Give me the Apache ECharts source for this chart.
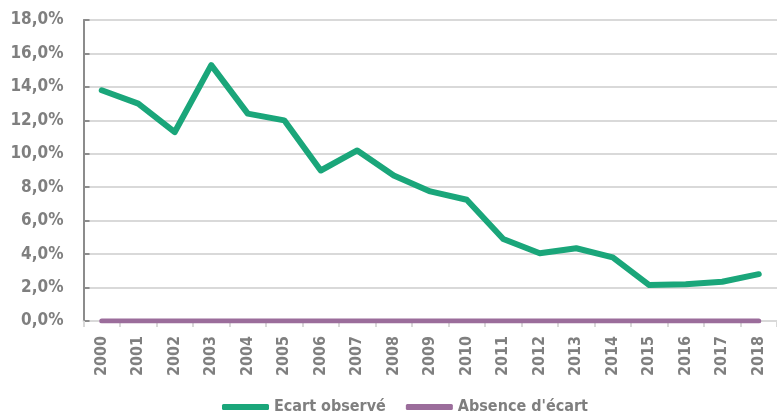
<!DOCTYPE html>
<html>
<head>
<meta charset="utf-8">
<script src="https://cdn.jsdelivr.net/npm/echarts@6/dist/echarts.min.js"></script>
<style>
  html, body { margin: 0; padding: 0; background: #fff; }
  #chart { width: 777px; height: 419px; }
</style>
</head>
<body>
<div id="chart"></div>
<script>
// Données du graphique
const annees = ['2000', '2001', '2002', '2003', '2004', '2005', '2006', '2007', '2008', '2009',
    '2010', '2011', '2012', '2013', '2014', '2015', '2016', '2017', '2018'];
const ecartObserve = [13.8, 13.0, 11.3, 15.3, 12.4, 12.0, 9.0, 10.2, 8.7, 7.75,
    7.25, 4.9, 4.05, 4.35, 3.8, 2.15, 2.2, 2.35, 2.8];
const absenceEcart = [0, 0, 0, 0, 0, 0, 0, 0, 0, 0, 0, 0, 0, 0, 0, 0, 0, 0, 0];

const police = "'Liberation Sans Narrow', 'DejaVu Sans Condensed', sans-serif";
const gris = '#7f7f7f';

var myChart = echarts.init(document.getElementById('chart'));

var option = {
    animation: false,
    grid: { left: 83.5, right: 0, top: 20, bottom: 98 },
    legend: {
        left: 222,
        top: 396,
        padding: 0,
        itemWidth: 47,
        itemHeight: 6,
        itemGap: 20,
        icon: 'roundRect',
        textStyle: { color: gris, fontFamily: police, fontWeight: 'bold', fontSize: 16, lineHeight: 22 },
        data: ['Ecart observé', "Absence d'écart"]
    },
    xAxis: {
        type: 'category',
        data: annees,
        axisLine: { lineStyle: { color: '#d9d9d9', width: 2 } },
        axisTick: { show: true, length: 6, lineStyle: { color: '#d9d9d9', width: 2 } },
        axisLabel: {
            rotate: 90,
            margin: 15,
            color: gris,
            fontFamily: police,
            fontWeight: 'bold',
            fontSize: 16
        }
    },
    yAxis: {
        type: 'value',
        min: 0,
        max: 18,
        interval: 2,
        axisLine: { show: true, lineStyle: { color: '#8c8c8c', width: 2 } },
        axisTick: { show: true, inside: true, length: 6, lineStyle: { color: '#8c8c8c', width: 2 } },
        splitLine: { lineStyle: { color: '#d9d9d9', width: 2 } },
        axisLabel: {
            margin: 20,
            color: gris,
            fontFamily: police,
            fontWeight: 'bold',
            fontSize: 17,
            formatter: function (v) {
                return v.toFixed(1).replace('.', ',') + '%';
            }
        }
    },
    series: [
        {
            name: 'Ecart observé',
            type: 'line',
            data: ecartObserve,
            showSymbol: false,
            symbol: 'none',
            lineStyle: { color: '#1aa67a', width: 6, cap: 'round', join: 'round' },
            itemStyle: { color: '#1aa67a' }
        },
        {
            name: "Absence d'écart",
            type: 'line',
            data: absenceEcart,
            showSymbol: false,
            symbol: 'none',
            lineStyle: { color: '#9b6d9b', width: 5, cap: 'round' },
            itemStyle: { color: '#9b6d9b' }
        }
    ]
};

myChart.setOption(option);
</script>
</body>
</html>
